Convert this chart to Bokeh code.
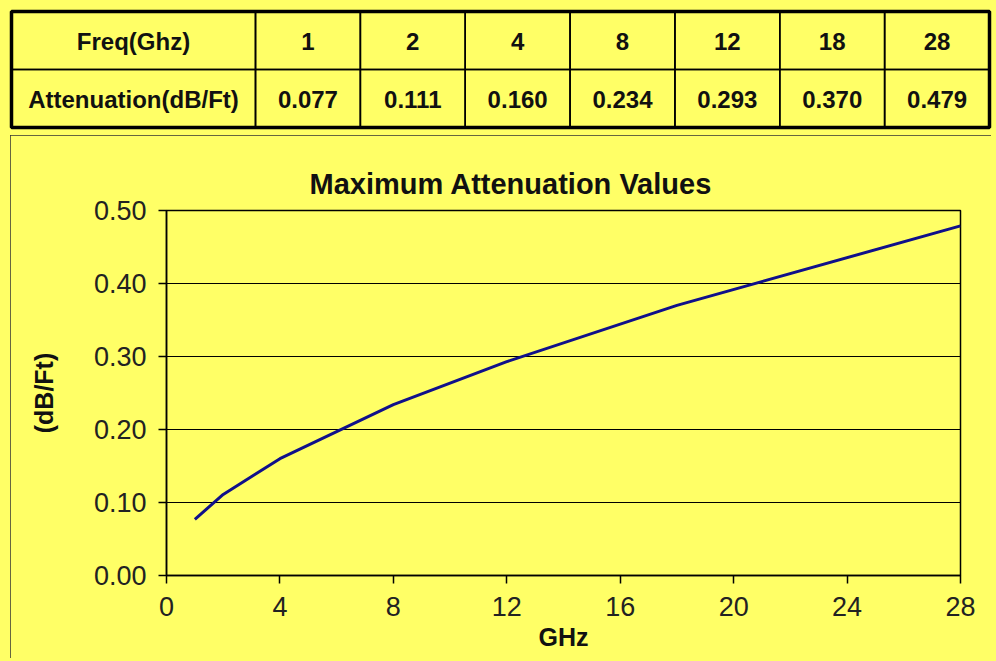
from bokeh.plotting import figure
from bokeh.models import Range1d, FixedTicker, NumeralTickFormatter, GlobalInlineStyleSheet
from bokeh.core.properties import value
from bokeh.embed import file_html
from bokeh.resources import INLINE

# ---- data ----
freq_ghz = [1, 2, 4, 8, 12, 18, 28]
atten_db_ft = [0.077, 0.111, 0.160, 0.234, 0.293, 0.370, 0.479]
row_headers = ["Freq(Ghz)", "Attenuation(dB/Ft)"]
x_ticks = [0, 4, 8, 12, 16, 20, 24, 28]
y_ticks = [0.0, 0.1, 0.2, 0.3, 0.4, 0.5]

YELLOW = "#FFFF66"
FONT = value("Liberation Sans")
W = 996

# ---- table figure (pixel-like coordinates, y down) ----
TH = 135
tbl = figure(width=W, height=TH, x_range=Range1d(0, W), y_range=Range1d(TH, 0),
             output_backend="svg", toolbar_location=None,
             x_axis_location=None, y_axis_location=None,
             min_border=0, background_fill_color=YELLOW, border_fill_color=YELLOW,
             outline_line_color=None)
tbl.xgrid.visible = False
tbl.ygrid.visible = False

t_left, t_right, t_top, t_mid, t_bot = 11, 989, 11, 69, 127
first_w = 244
col_w = (t_right - t_left - first_w) / len(freq_ghz)
lefts = [t_left] + [t_left + first_w + i * col_w for i in range(len(freq_ghz))]
rights = [t_left + first_w] + [t_left + first_w + (i + 1) * col_w for i in range(len(freq_ghz))]

cells_l, cells_r, cells_t, cells_b = [], [], [], []
tx, ty, tt = [], [], []
row_texts = [[row_headers[0]] + [str(f) for f in freq_ghz],
             [row_headers[1]] + ["%.3f" % a for a in atten_db_ft]]
for r, (top, bot) in enumerate([(t_top, t_mid), (t_mid, t_bot)]):
    for c in range(len(lefts)):
        cells_l.append(lefts[c]); cells_r.append(rights[c])
        cells_t.append(top); cells_b.append(bot)
        tx.append((lefts[c] + rights[c]) / 2)
        ty.append((top + bot) / 2 + 1)
        tt.append(row_texts[r][c])

tbl.quad(left=cells_l, right=cells_r, top=cells_t, bottom=cells_b,
         fill_color=None, line_color="black", line_width=1.6)
tbl.quad(left=[t_left], right=[t_right], top=[t_top], bottom=[t_bot],
         fill_color=None, line_color="black", line_width=3.5)
tbl.text(x=tx, y=ty, text=tt, text_align="center", text_baseline="middle",
         text_font=FONT, text_font_style="bold", text_font_size="24px",
         text_color="#111111")

# ---- chart figure (framed box 10..991 x, 135..658 y on the page) ----
CW, CH = 981, 523
p = figure(width=CW, height=CH, x_range=Range1d(0, 28), y_range=Range1d(0, 0.5),
           output_backend="svg", toolbar_location=None,
           min_border_left=156, min_border_right=31, min_border_top=75, min_border_bottom=83,
           background_fill_color=YELLOW, border_fill_color=YELLOW,
           outline_line_color="black", outline_line_width=1.5,
           title="Maximum Attenuation Values")
p.styles = {"margin-left": "10px", "outline": "2px solid #333333", "outline-offset": "-2px"}
p.stylesheets = [GlobalInlineStyleSheet(css="html, body { background-color: #FFFF66; }")]

p.title.text_font = "Liberation Sans"
p.title.text_font_size = "29px"
p.title.text_font_style = "bold"
p.title.align = "left"
p.title.offset = 143
p.title.standoff = 22
p.title.text_color = "#111111"

p.line(freq_ghz, atten_db_ft, line_color="#10108a", line_width=3)

p.xgrid.visible = False
p.ygrid.ticker = FixedTicker(ticks=y_ticks)
p.ygrid.grid_line_color = "black"
p.ygrid.grid_line_width = 1.2

for ax in (p.xaxis[0], p.yaxis[0]):
    ax.axis_line_color = "black"
    ax.axis_line_width = 1.5
    ax.major_tick_line_color = "black"
    ax.major_tick_line_width = 1.5
    ax.major_tick_out = 8
    ax.major_tick_in = 0
    ax.minor_tick_line_color = None
    ax.major_label_text_font = "Liberation Sans"
    ax.major_label_text_font_size = "27px"
    ax.major_label_text_color = "#222222"
    ax.axis_label_text_font = "Liberation Sans"
    ax.axis_label_text_font_style = "bold"
    ax.axis_label_text_font_size = "25px"
    ax.axis_label_text_color = "#111111"

p.xaxis[0].ticker = FixedTicker(ticks=x_ticks)
p.xaxis[0].axis_label = "GHz"
p.xaxis[0].major_label_standoff = 13
p.xaxis[0].axis_label_standoff = 4

p.yaxis[0].ticker = FixedTicker(ticks=y_ticks)
p.yaxis[0].formatter = NumeralTickFormatter(format="0.00")
p.yaxis[0].axis_label = "(dB/Ft)"
p.yaxis[0].major_label_standoff = 12
p.yaxis[0].axis_label_standoff = 33

open("out.html", "w").write(file_html([tbl, p], INLINE))
